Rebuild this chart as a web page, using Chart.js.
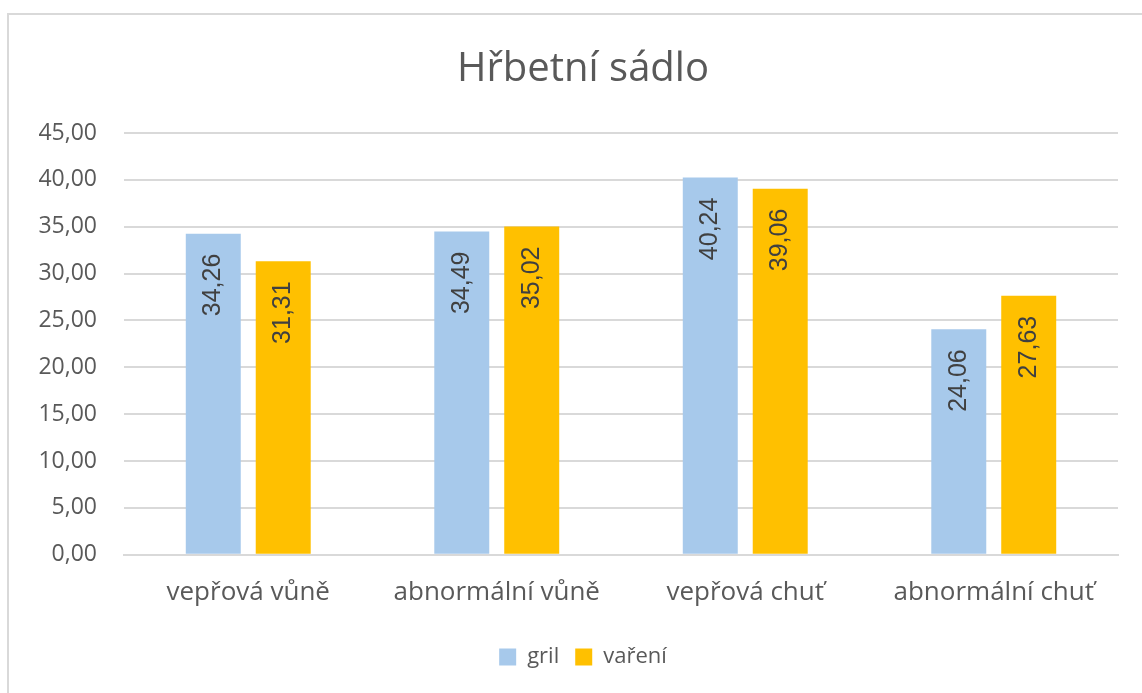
<!DOCTYPE html>
<html lang="cs">
<head>
<meta charset="utf-8">
<title>Hřbetní sádlo</title>
<script src="https://cdn.jsdelivr.net/npm/chart.js@4"></script>
<style>
    html, body { margin: 0; padding: 0; background: #fff; overflow: hidden; }
    #wrap { position: relative; width: 1142px; height: 693px; overflow: hidden; }
    #frame {
        position: absolute; left: 7px; top: 13px;
        width: 1300px; height: 900px;
        border: 2px solid #d9d9d9; box-sizing: border-box;
    }
    #chart { position: absolute; left: 0; top: 0; }
</style>
</head>
<body>
<div id="wrap">
    <div id="frame"></div>
    <canvas id="chart" width="1166" height="693"></canvas>
</div>
<script>
// data
const categories = ['vepřová vůně', 'abnormální vůně', 'vepřová chuť', 'abnormální chuť'];
const grilValues = [34.26, 34.49, 40.24, 24.06];
const vareniValues = [31.31, 35.02, 39.06, 27.63];
const seriesNames = ['gril', 'vaření'];

const FONT = '"Open Sans", "Noto Sans", sans-serif';
const LABEL_FONT = '"Liberation Sans", Arial, sans-serif';
const TEXT = '#595959';

const fmt = v => v.toFixed(2).replace('.', ',');

// popisky hodnot otočené uvnitř sloupců (u horního konce)
const barLabels = {
    id: 'barLabels',
    afterDatasetsDraw(chart) {
        const ctx = chart.ctx;
        ctx.save();
        ctx.font = '25px ' + LABEL_FONT;
        ctx.fillStyle = '#404040';
        ctx.textAlign = 'right';
        ctx.textBaseline = 'middle';
        chart.data.datasets.forEach((ds, i) => {
            chart.getDatasetMeta(i).data.forEach((bar, j) => {
                ctx.save();
                ctx.translate(bar.x, bar.y);
                ctx.rotate(-Math.PI / 2);
                ctx.fillText(fmt(ds.data[j]), -20, 0);
                ctx.restore();
            });
        });
        ctx.restore();
    }
};

new Chart(document.getElementById('chart'), {
    type: 'bar',
    data: {
        labels: categories,
        datasets: [
            { label: seriesNames[0], data: grilValues, backgroundColor: '#A7C9EB' },
            { label: seriesNames[1], data: vareniValues, backgroundColor: '#FFC000' }
        ]
    },
    options: {
        responsive: false,
        animation: false,
        layout: { padding: { left: 0, right: 0, top: 28, bottom: 15 } },
        datasets: {
            bar: { categoryPercentage: 0.563, barPercentage: 0.786 }
        },
        plugins: {
            title: {
                display: true,
                text: 'Hřbetní sádlo',
                color: TEXT,
                font: { family: FONT, size: 40, weight: 'normal' },
                padding: { top: 18, bottom: 39 }
            },
            legend: {
                position: 'bottom',
                labels: {
                    color: TEXT,
                    font: { family: FONT, size: 22 },
                    boxWidth: 17,
                    boxHeight: 17,
                    padding: 16
                }
            },
            tooltip: { enabled: false }
        },
        scales: {
            x: {
                grid: { display: false, drawTicks: false },
                border: { color: '#d9d9d9', width: 2 },
                ticks: { color: TEXT, font: { family: FONT, size: 26 }, padding: 22 }
            },
            y: {
                min: 0,
                max: 45,
                afterFit(scale) { scale.width = 124; },
                grid: { color: '#d9d9d9', lineWidth: 2, drawTicks: false },
                border: { display: false },
                ticks: {
                    stepSize: 5,
                    color: TEXT,
                    font: { family: FONT, size: 23 },
                    padding: 27,
                    callback: v => fmt(v)
                }
            },
            // prázdný okraj vpravo od grafu, jako v původním grafu
            yRight: {
                position: 'right',
                display: true,
                afterFit(scale) { scale.width = 48; },
                grid: { display: false, drawTicks: false },
                border: { display: false },
                ticks: { display: false }
            }
        }
    },
    plugins: [barLabels]
});
</script>
</body>
</html>
